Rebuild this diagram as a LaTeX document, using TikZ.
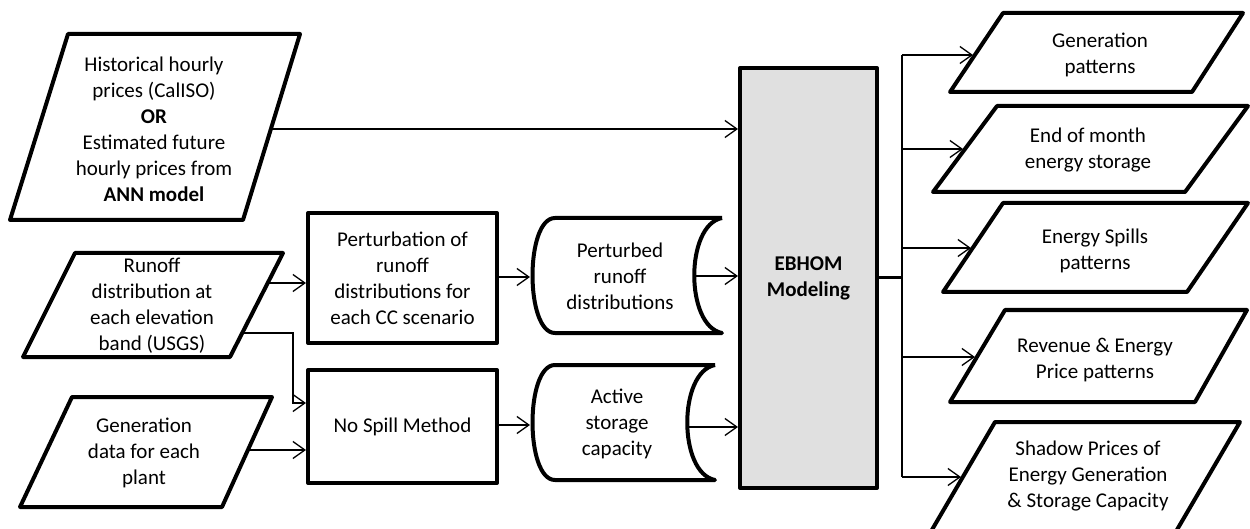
\documentclass[tikz,border=0pt]{standalone}
\usepackage{fontspec}
\setmainfont{Carlito}
\usetikzlibrary{arrows.meta}
\definecolor{ebfill}{RGB}{224,224,224}
\begin{document}
\begin{tikzpicture}[x=1pt,y=-1pt,
  shapeline/.style={line width=4pt, line join=round},
  conn/.style={line width=1.3pt, -{Straight Barb[length=12pt,width=17pt,line width=1.3pt]}},
  txt/.style={align=center, font=\fontsize{21}{26}\selectfont, inner sep=0pt},
  boxnode/.style={draw, shapeline, txt},
]
\useasboundingbox (0,0) rectangle (1250,529);

% ---------- input parallelograms ----------
\draw[shapeline] (68,34) -- (300,34) -- (243,220) -- (10,220) -- cycle;
\node[txt] (prices) at (154,129) {Historical hourly\\prices (CalISO)\\\textbf{OR}\\Estimated future\\hourly prices from\\\textbf{ANN model}};

\draw[shapeline] (75,253) -- (283,253) -- (230,357) -- (23,357) -- cycle;
\node[txt] (runoff) at (152,306) {Runoff\\distribution at\\each elevation\\band (USGS)};

\draw[shapeline] (72,397) -- (272,397) -- (222,507) -- (20,507) -- cycle;
\node[txt] (gendata) at (144,453) {Generation\\data for each\\plant};

% ---------- process boxes ----------
\node[boxnode, minimum width=189pt, minimum height=130pt] (pert) at (402.5,278) {Perturbation of\\runoff\\distributions for\\each CC scenario};
\node[boxnode, minimum width=189pt, minimum height=113pt] (nospill) at (402.5,426.5) {No Spill Method};

% ---------- stored data shapes ----------
\draw[shapeline] (722,218) -- (555,218) .. controls (525,218) and (525,333) .. (555,333) -- (722,333)
  .. controls (685,326) and (685,225) .. (722,218);
\node[txt] (st1) at (620,276) {Perturbed\\runoff\\distributions};

\draw[shapeline] (715,365) -- (555,365) .. controls (525,365) and (525,480) .. (555,480) -- (715,480)
  .. controls (678,473) and (678,372) .. (715,365);
\node[txt] (st2) at (617,424) {Active\\storage\\capacity};

% ---------- EBHOM ----------
\node[draw, shapeline, fill=ebfill, txt, font=\fontsize{21}{26}\selectfont\bfseries,
      minimum width=137pt, minimum height=420pt] (eb) at (808.5,278) {EBHOM\\Modeling};

% ---------- output parallelograms ----------
\draw[shapeline] (1003,13) -- (1243,13) -- (1192,92) -- (950,92) -- cycle;
\node[txt] (o1t) at (1100,55) {Generation\\patterns};

\draw[shapeline] (997,106) -- (1248,106) -- (1185,192) -- (933,192) -- cycle;
\node[txt] (o2t) at (1088,150) {End of month\\energy storage};

\draw[shapeline] (1003,203) -- (1248,203) -- (1187,292) -- (943,292) -- cycle;
\node[txt] (o3t) at (1095,251) {Energy Spills\\patterns};

\draw[shapeline] (1005,310) -- (1247,310) -- (1195,402) -- (950,402) -- cycle;
\node[txt] (o4t) at (1095,360) {Revenue \& Energy\\Price patterns};

\draw[shapeline] (995,422) -- (1240,422) -- (1171,540) -- (926,540) -- cycle;
\node[txt] (o5t) at (1088,476) {Shadow Prices of\\Energy Generation\\\& Storage Capacity};

% ---------- connector coordinates ----------
\coordinate (p1out) at (271,129);
\coordinate (p2a) at (268,283);
\coordinate (p2b) at (242,333);
\coordinate (bend) at (293,403);
\coordinate (p3a) at (248,450);
\coordinate (st1in) at (530,277);
\coordinate (st1out) at (694,276);
\coordinate (st2in) at (530,425);
\coordinate (st2out) at (687,427);
\coordinate (trunk) at (902,278);
\coordinate (o1in) at (973,55);
\coordinate (o2in) at (963,149);
\coordinate (o3in) at (971,248);
\coordinate (o4in) at (975,357);
\coordinate (o5in) at (961,477);

% ---------- connectors ----------
\draw[conn] (p1out) -- (p1out -| eb.west);
\draw[conn] (p2a) -- (p2a -| pert.west);
\draw[conn] (p2b) -| (bend) -- (bend -| nospill.west);
\draw[conn] (p3a) -- (p3a -| nospill.west);
\draw[conn] (pert.east |- st1in) -- (st1in);
\draw[conn] (st1out) -- (st1out -| eb.west);
\draw[conn] (nospill.east |- st2in) -- (st2in);
\draw[conn] (st2out) -- (st2out -| eb.west);

\draw[line width=3pt] (eb.east |- trunk) -- (trunk);
\draw[line width=1.3pt] (o1in -| trunk) -- (o5in -| trunk);
\draw[conn] (o1in -| trunk) -- (o1in);
\draw[conn] (o2in -| trunk) -- (o2in);
\draw[conn] (o3in -| trunk) -- (o3in);
\draw[conn] (o4in -| trunk) -- (o4in);
\draw[conn] (o5in -| trunk) -- (o5in);
\end{tikzpicture}
\end{document}
